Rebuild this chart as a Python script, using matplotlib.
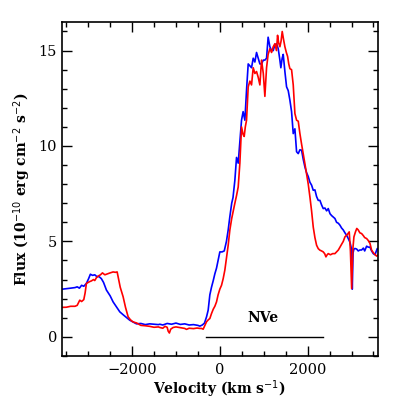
import numpy as np
import matplotlib
matplotlib.use("Agg")
import matplotlib.pyplot as plt

# blue spectrum (velocity km/s, flux)
vel_blue = [-3650, -3500, -3400, -3300, -3250, -3200, -3150, -3100, -3040, -2990, -2950, -2900,
            -2850, -2810, -2750, -2700, -2650, -2584, -2500, -2432, -2350, -2280, -2200, -2120,
            -2052, -1980, -1900, -1800, -1700, -1600, -1500, -1400, -1368, -1300, -1200, -1100,
            -1000, -900, -800, -700, -600, -500, -456, -400, -350, -303, -266, -228, -190,
            -150, -114, -76, -40, 0, 50, 100, 150, 190, 228, 270, 300, 342, 380, 418, 456,
            494, 530, 570, 610, 646, 684, 722, 760, 798, 836, 874, 912, 950, 990, 1026, 1064,
            1100, 1140, 1178, 1216, 1254, 1292, 1330, 1368, 1390, 1420, 1444, 1482, 1520, 1558,
            1596, 1634, 1672, 1710, 1748, 1786, 1824, 1862, 1900, 1938, 1976, 2014, 2052, 2090,
            2128, 2166, 2204, 2242, 2280, 2320, 2356, 2394, 2433, 2470, 2510, 2548, 2584, 2622,
            2660, 2700, 2736, 2774, 2812, 2850, 2888, 2926, 2965, 2990, 3003, 3017, 3035, 3055,
            3078, 3117, 3153, 3190, 3230, 3270, 3300, 3344, 3380, 3420, 3458, 3496, 3534, 3587, 3650]
flux_blue = [2.48, 2.52, 2.55, 2.58, 2.62, 2.55, 2.7, 2.65, 2.8, 3.05, 3.28, 3.22,
             3.25, 3.17, 3.15, 3.05, 2.85, 2.45, 2.15, 1.83, 1.55, 1.31, 1.15, 1.0,
             0.87, 0.78, 0.68, 0.7, 0.64, 0.68, 0.66, 0.64, 0.66, 0.62, 0.7, 0.66,
             0.72, 0.65, 0.68, 0.62, 0.64, 0.6, 0.56, 0.62, 0.72, 1.05, 1.4, 2.2, 2.6,
             2.95, 3.3, 3.6, 4.0, 4.45, 4.45, 4.5, 5.0, 5.6, 6.3, 7.0, 7.3, 8.2, 9.4, 9.1, 10.2,
             11.35, 11.8, 11.35, 13.0, 14.3, 14.2, 14.1, 14.6, 14.4, 14.9, 14.6, 14.3, 14.3, 14.5, 14.5, 14.6,
             15.7, 15.2, 15.0, 15.0, 15.3, 15.36, 15.1, 14.5, 14.1, 14.6, 14.8, 13.9, 13.1, 12.9,
             12.4, 11.8, 10.65, 10.9, 9.7, 9.6, 9.8, 9.78, 9.3, 8.9, 8.6, 8.4, 8.1, 7.95,
             7.68, 7.7, 7.35, 7.15, 7.15, 6.9, 6.72, 6.75, 6.6, 6.72, 6.45, 6.35, 6.28, 6.2,
             6.0, 5.95, 5.85, 5.7, 5.6, 5.45, 5.32, 5.15, 4.95, 4.7, 4.5, 2.5, 4.4, 4.6,
             4.63, 4.6, 4.5, 4.55, 4.55, 4.65, 4.5, 4.75, 4.7, 4.7, 4.5, 4.36, 4.3, 4.63, 4.55]

# red spectrum (velocity km/s, flux)
vel_red = [-3650, -3500, -3400, -3300, -3250, -3192, -3150, -3100, -3070, -3040, -3000, -2960,
           -2926, -2880, -2850, -2812, -2760, -2720, -2675, -2620, -2560, -2500, -2432, -2380,
           -2340, -2318, -2270, -2204, -2150, -2090, -2040, -1990, -1950, -1900, -1800, -1700,
           -1600, -1500, -1400, -1368, -1300, -1250, -1200, -1178, -1150, -1120, -1064, -1000,
           -900, -800, -760, -700, -600, -520, -456, -418, -380, -340, -303, -260, -228, -190,
           -150, -114, -76, -40, 0, 38, 76, 114, 150, 190, 228, 270, 305, 342, 380, 418, 456,
           494, 530, 555, 580, 608, 646, 684, 722, 760, 798, 836, 874, 912, 950, 990, 1026,
           1064, 1100, 1140, 1178, 1216, 1254, 1290, 1315, 1340, 1368, 1395, 1421, 1450, 1482,
           1515, 1543, 1570, 1596, 1634, 1672, 1710, 1748, 1786, 1824, 1862, 1900, 1938, 1976,
           2014, 2052, 2090, 2128, 2166, 2204, 2242, 2280, 2318, 2356, 2390, 2417, 2445, 2470,
           2520, 2570, 2622, 2660, 2700, 2736, 2774, 2812, 2850, 2900, 2948, 2975, 3003, 3030,
           3055, 3090, 3120, 3153, 3190, 3230, 3270, 3300, 3344, 3380, 3420, 3458, 3500, 3540,
           3572, 3610, 3650]
flux_red = [1.54, 1.55, 1.6, 1.6, 1.65, 1.92, 1.85, 1.95, 2.3, 2.8, 2.85, 2.9,
            2.93, 3.0, 2.95, 3.1, 3.2, 3.25, 3.35, 3.25, 3.3, 3.35, 3.4, 3.38,
            3.4, 3.14, 2.6, 2.1, 1.55, 1.05, 0.9, 0.8, 0.76, 0.73, 0.6, 0.58,
            0.55, 0.5, 0.52, 0.49, 0.45, 0.55, 0.5, 0.3, 0.2, 0.4, 0.49, 0.52,
            0.48, 0.44, 0.39, 0.45, 0.43, 0.46, 0.44, 0.44, 0.4, 0.6, 0.79, 0.9, 0.96, 1.22,
            1.45, 1.6, 1.83, 2.2, 2.5, 2.7, 3.05, 3.5, 4.1, 4.8, 5.6, 6.2, 6.6, 7.0, 7.4, 7.85, 9.1,
            11.0, 10.6, 10.5, 11.0, 11.35, 13.1, 13.4, 13.2, 14.1, 13.8, 13.9, 13.6, 13.2, 14.5, 13.8, 12.6,
            14.1, 14.8, 15.1, 14.9, 15.2, 15.36, 15.0, 15.8, 15.4, 15.2, 15.5, 16.0, 15.6, 15.2,
            14.9, 14.7, 14.3, 14.05, 14.0, 13.2, 11.7, 11.35, 11.3, 10.65, 10.1, 9.6, 9.07, 8.55,
            8.0, 7.33, 6.6, 5.75, 5.2, 4.8, 4.62, 4.54, 4.5, 4.45, 4.35, 4.19, 4.3, 4.36,
            4.3, 4.36, 4.36, 4.45, 4.55, 4.7, 4.85, 5.0, 5.24, 5.35, 5.5, 4.5, 2.53, 4.6,
            5.24, 5.5, 5.68, 5.6, 5.45, 5.41, 5.3, 5.2, 5.15, 5.05, 4.9, 4.54, 4.4, 4.3,
            4.23, 4.3, 4.2]

nve_start, nve_end = -320, 2340
nve_level = 0.0

plt.rcParams['font.family'] = 'DejaVu Serif'

fig = plt.figure(figsize=(3.99, 3.99), dpi=100)
ax = fig.add_axes([0.155, 0.108, 0.792, 0.837])

ax.plot(vel_blue, flux_blue, color='blue', lw=1.2)
ax.plot(vel_red, flux_red, color='red', lw=1.2)
ax.plot([nve_start, nve_end], [nve_level, nve_level], color='black', lw=1.0)
ax.text(980, 0.6, 'NVe', ha='center', va='bottom', fontsize=10, fontweight='bold')

ax.set_xlim(-3600, 3600)
ax.set_ylim(-1, 16.5)
ax.set_xticks([-2000, 0, 2000])
ax.set_xticks(np.arange(-3500, 3600, 500), minor=True)
ax.set_yticks([0, 5, 10, 15])
ax.set_yticks(np.arange(-1, 17, 1), minor=True)
ax.set_xticklabels(['\u22122000', '0', '2000'])
ax.tick_params(which='both', direction='in', top=True, right=True, width=1.0, labelsize=10.5)
ax.tick_params(which='major', length=7)
ax.tick_params(which='minor', length=3.5)
ax.tick_params(axis='x', pad=5)
for s in ax.spines.values():
    s.set_linewidth(1.2)

ax.set_xlabel('Velocity (km s$^{-1}$)', fontsize=10, fontweight='bold', labelpad=1)
ax.set_ylabel('Flux (10$^{-10}$ erg cm$^{-2}$ s$^{-2}$)', fontsize=10, fontweight='bold')

fig.savefig('out.png', dpi=100)
